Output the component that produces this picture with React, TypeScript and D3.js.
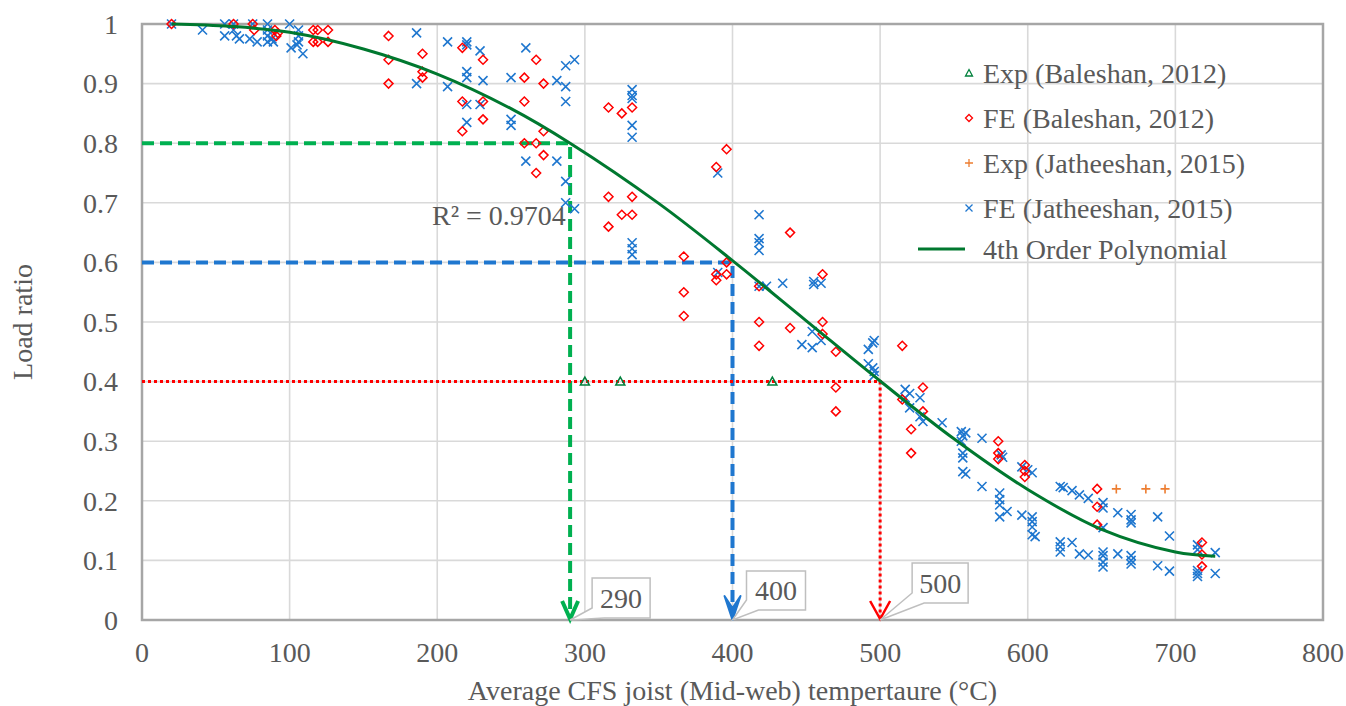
import React from "react";
import * as d3 from "d3";

// Exp (Baleshan, 2012)
const expBalX = [300, 324, 427];
const expBalY = [0.4, 0.4, 0.4];

// Exp (Jatheeshan, 2015)
const expJatX = [660, 680, 693];
const expJatY = [0.22, 0.22, 0.22];

// FE (Baleshan, 2012)
const feBalX = [
  20, 62, 75, 76, 90, 92, 91, 116, 119, 126, 116, 119, 126,
  167, 167, 167, 190, 190, 190, 217, 217, 217, 231, 231, 231,
  259, 267, 272, 259, 272, 259, 267, 272, 267,
  316, 325, 332, 316, 332, 325, 332, 316,
  367, 367, 367, 389, 396, 396, 389, 396, 389,
  418, 418, 418, 439, 439, 461, 461, 461, 470, 470, 470,
  515, 515, 529, 529, 521, 521, 580, 580, 580, 598, 598, 598,
  647, 647, 647, 718, 718, 718,
];
const feBalY = [
  1.0, 1.0, 1.0, 0.99, 0.99, 0.985, 0.98, 0.99, 0.99, 0.99, 0.97, 0.97, 0.97,
  0.98, 0.94, 0.9, 0.95, 0.92, 0.91, 0.96, 0.87, 0.82, 0.94, 0.87, 0.84,
  0.91, 0.94, 0.9, 0.87, 0.82, 0.8, 0.8, 0.78, 0.75,
  0.86, 0.85, 0.86, 0.71, 0.71, 0.68, 0.68, 0.66,
  0.61, 0.55, 0.51, 0.76, 0.79, 0.6, 0.58, 0.58, 0.57,
  0.56, 0.5, 0.46, 0.65, 0.49, 0.58, 0.5, 0.48, 0.45, 0.39, 0.35,
  0.46, 0.37, 0.39, 0.35, 0.32, 0.28, 0.3, 0.28, 0.27, 0.26, 0.25, 0.24,
  0.22, 0.19, 0.16, 0.13, 0.11, 0.09,
];

// FE (Jatheeshan, 2015)
const feJatX = [
  20, 41, 56, 56, 62, 62, 64, 66, 75, 73, 78, 85, 85, 85, 85, 88, 89,
  100, 106, 106, 106, 101, 105, 109,
  186, 186, 207, 207, 220, 220, 220, 220, 220, 220,
  229, 231, 229, 250, 250, 250, 260, 260, 281, 281, 287, 293, 287, 287, 287, 287, 293,
  332, 332, 332, 332, 332, 332, 332, 332,
  390, 390, 418, 418, 418, 418, 418, 423, 434, 455, 455, 460,
  447, 454, 460, 454, 492, 495, 496, 492, 495, 496, 496,
  517, 520, 517, 527, 520, 527, 529,
  542, 555, 556, 558, 555, 569, 556, 556, 556, 558, 569,
  582, 583, 581, 581, 581, 586, 581,
  596, 600, 603, 596, 603, 603, 603, 603, 605,
  622, 624, 630, 635, 641, 651, 651, 661, 670, 670, 670, 688, 696, 651,
  622, 622, 622, 630, 635, 641, 651, 651, 651, 651, 661, 670, 670, 670, 688, 696,
  715, 715, 715, 715, 715, 727, 727,
];
const feJatY = [
  1.0, 0.99, 1.0, 0.98, 1.0, 0.99, 0.98, 0.975, 1.0, 0.975, 0.97, 1.0, 0.99, 0.98, 0.97, 0.975, 0.97,
  1.0, 0.99, 0.98, 0.97, 0.96, 0.965, 0.95,
  0.985, 0.9, 0.97, 0.895, 0.97, 0.965, 0.92, 0.91, 0.865, 0.835,
  0.955, 0.905, 0.865, 0.91, 0.84, 0.83, 0.96, 0.77, 0.905, 0.77, 0.93, 0.94, 0.895, 0.87, 0.736, 0.7, 0.69,
  0.89, 0.88, 0.875, 0.83, 0.81, 0.633, 0.623, 0.613,
  0.75, 0.583, 0.68, 0.64, 0.633, 0.62, 0.56, 0.56, 0.565, 0.568, 0.563, 0.565,
  0.462, 0.484, 0.469, 0.457, 0.454, 0.465, 0.469, 0.43, 0.423, 0.417, 0.41,
  0.387, 0.38, 0.373, 0.373, 0.356, 0.341, 0.333,
  0.331, 0.316, 0.309, 0.314, 0.3, 0.305, 0.28, 0.272, 0.249, 0.245, 0.224,
  0.277, 0.273, 0.213, 0.202, 0.193, 0.182, 0.173,
  0.257, 0.252, 0.247, 0.176, 0.173, 0.165, 0.156, 0.143, 0.14,
  0.224, 0.222, 0.217, 0.21, 0.204, 0.197, 0.188, 0.18, 0.177, 0.168, 0.163, 0.173, 0.141, 0.155,
  0.131, 0.123, 0.114, 0.13, 0.111, 0.109, 0.114, 0.108, 0.097, 0.089, 0.111, 0.108, 0.1, 0.094, 0.091, 0.082,
  0.126, 0.118, 0.083, 0.078, 0.073, 0.113, 0.078,
];

// 4th order polynomial trendline
const trendX = [20, 60, 100, 150, 200, 250, 290, 350, 400, 450, 500, 550, 600, 650, 700, 727];
const trendY = [1.0, 0.996, 0.986, 0.958, 0.916, 0.858, 0.8, 0.699, 0.603, 0.502, 0.401, 0.304, 0.219, 0.152, 0.114, 0.107];

// guide lines
const guideX = [290, 400, 500];
const guideY = [0.8, 0.6, 0.4];
const guideLabels = ["290", "400", "500"];

const xTicks = [0, 100, 200, 300, 400, 500, 600, 700, 800];
const yTicks = [0, 0.1, 0.2, 0.3, 0.4, 0.5, 0.6, 0.7, 0.8, 0.9, 1];

const legendLabels = [
  "Exp (Baleshan, 2012)",
  "FE (Baleshan, 2012)",
  "Exp (Jatheeshan, 2015)",
  "FE (Jatheeshan, 2015)",
  "4th Order Polynomial",
];

const W = 1346;
const H = 706;
const left = 142;
const right = 1323;
const top = 24;
const bottom = 620;

const font = "Liberation Serif, DejaVu Serif, Times New Roman, serif";
const textColor = "#595959";
const red = "#ff0000";
const blue = "#1f77cf";
const green = "#00b050";
const darkGreen = "#00782f";
const orange = "#ed7d31";
const triGreen = "#00803c";

const diamond = "M0,-4.5L4.5,0L0,4.5L-4.5,0Z";
const triangle = "M0,-4.5L4.5,3.5L-4.5,3.5Z";
const txt = { fontFamily: font, fontSize: 28, fill: textColor };

function Cross({ x, y, s = 4.5 }) {
  return (
    <path d={`M${x - s},${y - s}L${x + s},${y + s}M${x - s},${y + s}L${x + s},${y - s}`} stroke={blue} strokeWidth={1.6} fill="none" />
  );
}
function Plus({ x, y, s = 4.5 }) {
  return <path d={`M${x - s},${y}H${x + s}M${x},${y - s}V${y + s}`} stroke={orange} strokeWidth={1.6} fill="none" />;
}

export default function App() {
  const x = d3.scaleLinear().domain([0, 800]).range([left, right]);
  const y = d3.scaleLinear().domain([0, 1]).range([bottom, top]);

  const trend = d3
    .line<number>()
    .x((d, i) => x(trendX[i]))
    .y((d, i) => y(trendY[i]))
    .curve(d3.curveCatmullRom)(trendX);

  const guideColors = [green, blue, red];
  const guideDash = ["12 6", "12 6", "3 3"];
  const guideWidth = [4, 4, 3];
  // callout box offsets relative to the arrow tip
  const boxOff = [
    { dx: 22, dy: -42, w: 58, h: 40 },
    { dx: 14, dy: -49, w: 59, h: 39 },
    { dx: 32, dy: -57, w: 56, h: 40 },
  ];

  const legY = [73, 118, 163, 208, 249];

  return (
    <svg width={W} height={H} style={{ position: "absolute", left: 0, top: 0, background: "#fff" }}>
      {/* grid */}
      {xTicks.slice(1, -1).map((t) => (
        <line key={"gx" + t} x1={x(t)} x2={x(t)} y1={top} y2={bottom} stroke="#d9d9d9" strokeWidth={1.6} />
      ))}
      {yTicks.slice(1, -1).map((t) => (
        <line key={"gy" + t} x1={left} x2={right} y1={y(t)} y2={y(t)} stroke="#d9d9d9" strokeWidth={1.6} />
      ))}
      <rect x={left} y={top} width={right - left} height={bottom - top} fill="none" stroke="#a6a6a6" strokeWidth={2.5} />

      {/* tick labels */}
      {yTicks.map((t) => (
        <text key={"ty" + t} x={118} y={y(t)} dy="0.35em" textAnchor="end" style={txt}>
          {d3.format("~g")(t)}
        </text>
      ))}
      {xTicks.map((t) => (
        <text key={"tx" + t} x={x(t)} y={662} textAnchor="middle" style={txt}>
          {t}
        </text>
      ))}
      <text x={(left + right) / 2} y={700} textAnchor="middle" style={txt}>
        Average CFS joist (Mid-web) tempertaure (°C)
      </text>
      <text transform={`translate(32,${(top + bottom) / 2}) rotate(-90)`} textAnchor="middle" style={txt}>
        Load ratio
      </text>

      {/* guide lines */}
      {guideX.map((g, i) => (
        <g key={"g" + i}>
          <path
            d={`M${x(0)},${y(guideY[i])}H${x(g)}V${y(0) - 4}`}
            fill="none"
            stroke={guideColors[i]}
            strokeWidth={guideWidth[i]}
            strokeDasharray={guideDash[i]}
          />
          {i === 1 ? (
            <path d={`M${x(g) - 8},${y(0) - 24}L${x(g)},${y(0)}L${x(g) + 8},${y(0) - 24}L${x(g)},${y(0) - 12}Z`} fill={blue} stroke={blue} strokeWidth={2} strokeLinejoin="round" />
          ) : (
            <path
              d={`M${x(g) - (i === 0 ? 8 : 10)},${y(0) - 19}L${x(g)},${y(0) - 1}L${x(g) + (i === 0 ? 8 : 10)},${y(0) - 19}`}
              fill="none"
              stroke={guideColors[i]}
              strokeWidth={i === 0 ? 4 : 2.5}
            />
          )}
        </g>
      ))}

      {/* FE Jatheeshan */}
      {feJatX.map((v, i) => (
        <Cross key={"fj" + i} x={x(v)} y={y(feJatY[i])} />
      ))}
      {/* FE Baleshan */}
      {feBalX.map((v, i) => (
        <path key={"fb" + i} d={diamond} transform={`translate(${x(v)},${y(feBalY[i])})`} fill="none" stroke={red} strokeWidth={1.5} />
      ))}
      {/* Exp Baleshan */}
      {expBalX.map((v, i) => (
        <path key={"eb" + i} d={triangle} transform={`translate(${x(v)},${y(expBalY[i])})`} fill="none" stroke={triGreen} strokeWidth={1.5} />
      ))}
      {/* Exp Jatheeshan */}
      {expJatX.map((v, i) => (
        <Plus key={"ej" + i} x={x(v)} y={y(expJatY[i])} />
      ))}

      {/* trendline */}
      <path d={trend || ""} fill="none" stroke={darkGreen} strokeWidth={3} />
      <text x={432} y={225} style={txt}>
        R² = 0.9704
      </text>

      {/* callouts */}
      {guideX.map((g, i) => {
        const tx = x(g);
        const ty = y(0);
        const b = boxOff[i];
        const bx = tx + b.dx;
        const by = ty + b.dy;
        const d = `M${bx},${by}H${bx + b.w}V${by + b.h}H${bx + 12}L${tx},${ty}L${bx},${by + b.h - 10}Z`;
        return (
          <g key={"c" + i}>
            <path d={d} fill="#fff" stroke="#bfbfbf" strokeWidth={1.5} />
            <text x={bx + b.w / 2} y={by + b.h / 2} dy="0.35em" textAnchor="middle" style={txt}>
              {guideLabels[i]}
            </text>
          </g>
        );
      })}

      {/* legend */}
      <g>
        <path d="M0,-3.5L3.5,3L-3.5,3Z" transform={`translate(969,${legY[0]})`} fill="none" stroke={triGreen} strokeWidth={1.3} />
        <path d="M0,-3.5L3.5,0L0,3.5L-3.5,0Z" transform={`translate(969,${legY[1]})`} fill="none" stroke={red} strokeWidth={1.3} />
        <path d={`M965,${legY[2]}H973M969,${legY[2] - 4}V${legY[2] + 4}`} stroke={orange} strokeWidth={1.3} />
        <path d={`M965.5,${legY[3] - 3.5}L972.5,${legY[3] + 3.5}M965.5,${legY[3] + 3.5}L972.5,${legY[3] - 3.5}`} stroke={blue} strokeWidth={1.3} />
        <line x1={918} x2={965} y1={legY[4]} y2={legY[4]} stroke={darkGreen} strokeWidth={3} />
        {legendLabels.map((l, i) => (
          <text key={l} x={983} y={legY[i]} dy="0.35em" style={txt}>
            {l}
          </text>
        ))}
      </g>
    </svg>
  );
}
